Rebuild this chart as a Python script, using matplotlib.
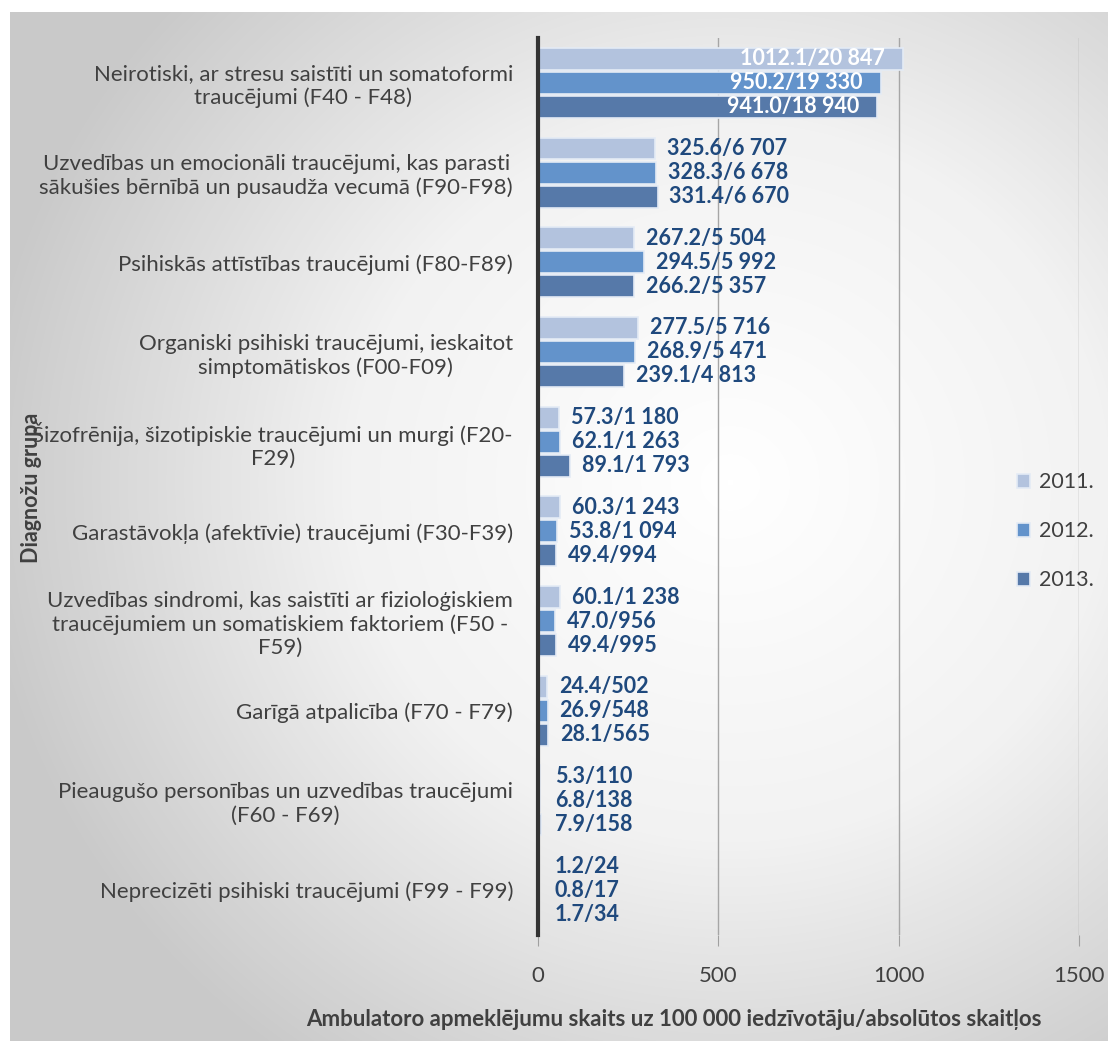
import numpy as np
import matplotlib.pyplot as plt
from matplotlib.colors import LinearSegmentedColormap

plt.rcParams['font.family'] = ['Lato', 'DejaVu Sans']

categories = [
    "Neirotiski, ar stresu saistīti un somatoformi\ntraucējumi (F40 - F48)",
    "Uzvedības un emocionāli traucējumi, kas parasti\nsākušies bērnībā un pusaudža vecumā (F90-F98)",
    "Psihiskās attīstības traucējumi (F80-F89)",
    "Organiski psihiski traucējumi, ieskaitot\nsimptomātiskos (F00-F09)",
    "Šizofrēnija, šizotipiskie traucējumi un murgi (F20-\nF29)",
    "Garastāvokļa (afektīvie) traucējumi (F30-F39)",
    "Uzvedības sindromi, kas saistīti ar fizioloģiskiem\ntraucējumiem un somatiskiem faktoriem (F50 -\nF59)",
    "Garīgā atpalicība (F70 - F79)",
    "Pieaugušo personības un uzvedības traucējumi\n(F60 - F69)",
    "Neprecizēti psihiski traucējumi (F99 - F99)",
]
years = ["2011.", "2012.", "2013."]

# per 100 000 inhabitants
rate_2011 = [1012.1, 325.6, 267.2, 277.5, 57.3, 60.3, 60.1, 24.4, 5.3, 1.2]
rate_2012 = [950.2, 328.3, 294.5, 268.9, 62.1, 53.8, 47.0, 26.9, 6.8, 0.8]
rate_2013 = [941.0, 331.4, 266.2, 239.1, 89.1, 49.4, 49.4, 28.1, 7.9, 1.7]
# absolute numbers
abs_2011 = [20847, 6707, 5504, 5716, 1180, 1243, 1238, 502, 110, 24]
abs_2012 = [19330, 6678, 5992, 5471, 1263, 1094, 956, 548, 138, 17]
abs_2013 = [18940, 6670, 5357, 4813, 1793, 994, 995, 565, 158, 34]

colors = ['#b3c3de', '#6393cb', '#5679a9']
label_color = '#1f497d'
text_color = '#404040'


def fmt(rate, n):
    return f"{rate:.1f}/" + f"{n:,}".replace(",", " ")


fig = plt.figure(figsize=(11.08, 10.41), dpi=100)

# radial grey background of the chart area
bg = fig.add_axes([10 / 1108, 0, 1 - 10 / 1108, 1 - 12 / 1041], zorder=-10)
yy, xx = np.mgrid[0:1029, 0:1098]
r = np.sqrt(((xx - 720) / 760.0) ** 2 + ((yy - 470) / 720.0) ** 2)
cmap = LinearSegmentedColormap.from_list('bg', ['#ffffff', '#f2f2f2', '#c9c9c9'])
bg.imshow(np.clip(r, 0, 1), cmap=cmap, vmin=0, vmax=1, aspect='auto')
bg.axis('off')

ax = fig.add_axes([538 / 1108, 1 - 935 / 1041, (1079 - 538) / 1108, (935 - 38) / 1041])
ax.patch.set_alpha(0)

n = len(categories)
y = np.arange(n)
h = 0.245
step = 0.268
series = [(rate_2011, abs_2011), (rate_2012, abs_2012), (rate_2013, abs_2013)]
for i, (rates, counts) in enumerate(series):
    pos = y + (i - 1) * step
    ax.barh(pos, rates, height=h, color=colors[i], edgecolor='#e4ebf5',
            linewidth=1.2, label=years[i], zorder=3)
    for j, (v, c) in enumerate(zip(rates, counts)):
        if j == 0:
            ax.text(v - 50, pos[j], fmt(v, c), ha='right', va='center',
                    color='white', fontsize=15.5, fontweight='bold', zorder=4)
        else:
            ax.text(max(v + 33, 47), pos[j], fmt(v, c), ha='left', va='center',
                    color=label_color, fontsize=15.5, fontweight='bold', zorder=4)

ax.set_ylim(n - 0.5, -0.5)
ax.set_xlim(0, 1500)
ax.set_xticks([0, 500, 1000, 1500])
ax.set_yticks(y)
ax.set_yticklabels(categories)
for t in ax.get_yticklabels():
    t.set_multialignment('center')
ax.tick_params(axis='y', length=0, pad=18, labelsize=16, labelcolor=text_color)
ax.tick_params(axis='x', length=8, color='#a0a0a0', pad=14, labelsize=16,
               labelcolor=text_color)
ax.grid(axis='x', color='#a6a6a6', linewidth=1, zorder=0)
for s in ['top', 'right', 'bottom']:
    ax.spines[s].set_visible(False)
ax.spines['left'].set_linewidth(3)
ax.spines['left'].set_color('#333333')
ax.spines['left'].set_zorder(5)

fig.text(32 / 1108, 1 - 488 / 1041, "Diagnožu grupa", rotation=90, ha='center',
         va='center', fontsize=15.5, fontweight='bold', color=text_color)
fig.text(674 / 1108, 1 - 1020 / 1041,
         "Ambulatoro apmeklējumu skaits uz 100 000 iedzīvotāju/absolūtos skaitļos",
         ha='center', va='center', fontsize=16, fontweight='bold', color=text_color)

leg = ax.legend(loc='center left', bbox_to_anchor=(0.886, 0.45), frameon=False,
                fontsize=15.5, handlelength=0.6, handleheight=0.6,
                labelspacing=1.35, handletextpad=0.4, borderaxespad=0,
                borderpad=0)
for t in leg.get_texts():
    t.set_color(text_color)

fig.savefig('out.png', dpi=100)
